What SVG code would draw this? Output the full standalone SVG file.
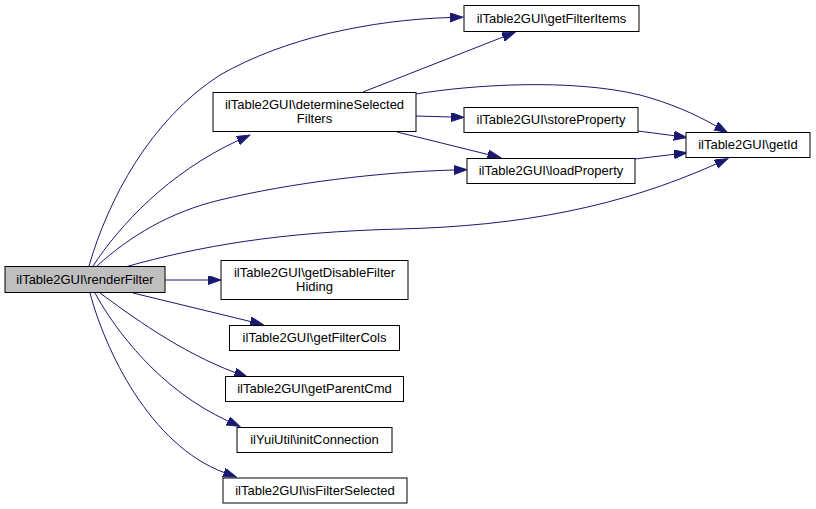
<svg xmlns="http://www.w3.org/2000/svg" width="816" height="509" viewBox="0 0 816 509">
<style>
.n rect{fill:#ffffff;stroke:#000000;stroke-width:1}
.n.root rect{fill:#bfbfbf}
.n text{font-family:"Liberation Sans",Arial,sans-serif;font-size:13px;fill:#000000;text-anchor:middle}
.e path{fill:none;stroke:#191970;stroke-width:1;marker-end:url(#ah)}
</style>
<defs>
<marker id="ah" markerWidth="14" markerHeight="10" refX="0" refY="4.5" orient="auto" markerUnits="userSpaceOnUse">
<path d="M0,0 L13,4.5 L0,9 Z" fill="#191970" stroke="#191970" stroke-width="1"/>
</marker>
</defs>
<rect width="816" height="509" fill="#ffffff"/>
<g id="edges" class="e">
<path d="M89,266 C108,200 150,120 220,75 C285,38 370,20 450,17.5"/>
<path d="M93,266 C120,225 168,173 238,140.5"/>
<path d="M97,266 C130,236 170,212 220,200 C290,183 380,172 454,170"/>
<path d="M125,267 C200,246 280,232 400,229 C520,226 620,207 716,164"/>
<path d="M165,280 L208,280"/>
<path d="M133,293 L250.5,321.5"/>
<path d="M100,293 C130,315 180,352 235,372.5"/>
<path d="M95,293 C115,330 160,390 228,421"/>
<path d="M90,293 C105,350 150,445 224,472.5"/>
<path d="M363,92 L503,37"/>
<path d="M416,94 C470,85 570,78 640,95 C670,103 695,114 716,126"/>
<path d="M416,116 L451,117"/>
<path d="M397,132 L488,154.5"/>
<path d="M638,131 L674,135.7"/>
<path d="M635,159 L674,154.3"/>
</g>
<g id="renderFilter" class="n root"><rect x="5" y="266.5" width="160" height="26"/><text x="85" y="284">ilTable2GUI\renderFilter</text></g>
<g id="determineSelectedFilters" class="n"><rect x="213" y="92.5" width="203" height="39"/><text x="314.5" y="108.5">ilTable2GUI\determineSelected</text><text x="314.5" y="123">Filters</text></g>
<g id="getFilterItems" class="n"><rect x="464" y="5.5" width="175" height="26"/><text x="551.5" y="23">ilTable2GUI\getFilterItems</text></g>
<g id="storeProperty" class="n"><rect x="464" y="107.5" width="174" height="25"/><text x="551" y="124">ilTable2GUI\storeProperty</text></g>
<g id="loadProperty" class="n"><rect x="467" y="158.5" width="168" height="25"/><text x="551" y="175">ilTable2GUI\loadProperty</text></g>
<g id="getId" class="n"><rect x="686" y="132.5" width="124" height="25"/><text x="748" y="149">ilTable2GUI\getId</text></g>
<g id="getDisableFilterHiding" class="n"><rect x="221" y="260.5" width="187" height="39"/><text x="314.5" y="276.5">ilTable2GUI\getDisableFilter</text><text x="314.5" y="291">Hiding</text></g>
<g id="getFilterCols" class="n"><rect x="229.5" y="325.5" width="170" height="25"/><text x="314.5" y="342">ilTable2GUI\getFilterCols</text></g>
<g id="getParentCmd" class="n"><rect x="225.5" y="376.5" width="178" height="25"/><text x="314.5" y="393">ilTable2GUI\getParentCmd</text></g>
<g id="initConnection" class="n"><rect x="237" y="427.5" width="155" height="25"/><text x="314.5" y="444">ilYuiUtil\initConnection</text></g>
<g id="isFilterSelected" class="n"><rect x="223" y="478" width="184" height="25"/><text x="315" y="494.5">ilTable2GUI\isFilterSelected</text></g>
</svg>
